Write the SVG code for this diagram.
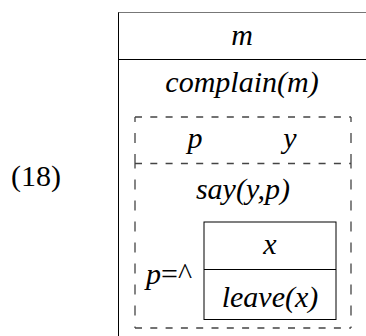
<svg xmlns="http://www.w3.org/2000/svg" width="366" height="336" viewBox="0 0 366 336">
<style>
.t{font-family:"Liberation Serif","Times New Roman",serif;font-size:30px;font-style:italic;fill:#000}
.r{font-family:"Liberation Serif","Times New Roman",serif;font-size:30px;font-style:normal;fill:#000}
.s{fill:none;stroke:#000;stroke-width:1}
.dh{fill:none;stroke:#444;stroke-width:1.3;stroke-dasharray:7 8.3}
.dv{fill:none;stroke:#444;stroke-width:1.3;stroke-dasharray:10 11;stroke-dashoffset:5}
</style>
<rect width="366" height="336" fill="#fff"/>
<text class="r" x="11" y="186">(18)</text>
<g id="outer">
<path fill="none" stroke="#777" stroke-width="1" d="M118,12.5 H366"/>
<path class="s" d="M118.5,12.5 V336 M118,59.5 H366"/>
<text class="t" x="242" y="45" text-anchor="middle">m</text>
<text class="t" x="242" y="92" text-anchor="middle">complain(m)</text>
</g>
<g id="dashed">
<path class="dh" d="M135,117 H351 M135,163.5 H351 M135,328 H351"/>
<path class="dv" d="M135,117 V163.5 M351,117 V163.5 M135,163.5 V328 M351,163.5 V328"/>
<text class="t" x="195" y="148" text-anchor="middle">p</text>
<text class="t" x="290" y="148" text-anchor="middle">y</text>
<text class="t" x="243" y="199" text-anchor="middle">say(y,p)</text>
<text class="t" x="146" y="284">p<tspan class="r">=^</tspan></text>
</g>
<g id="inner">
<rect class="s" x="204" y="222" width="132" height="97.5"/>
<path class="s" d="M204,269.5 H336"/>
<text class="t" x="270" y="254" text-anchor="middle">x</text>
<text class="t" x="270" y="307" text-anchor="middle">leave(x)</text>
</g>
<g id="connectors"/>
</svg>
